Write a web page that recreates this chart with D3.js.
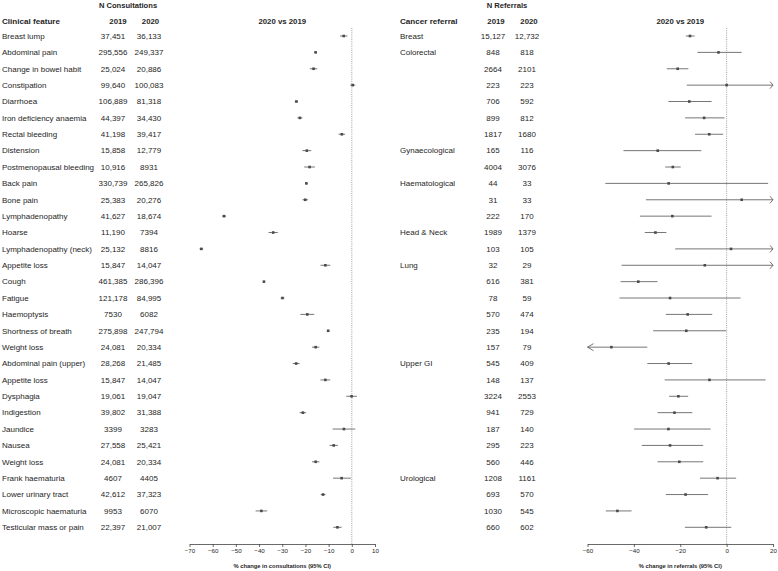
<!DOCTYPE html>
<html><head><meta charset="utf-8">
<script src="https://cdn.jsdelivr.net/npm/d3@7"></script>
<style>
html,body{margin:0;padding:0;background:#fff;}
text{font-family:"Liberation Sans",Arial,Helvetica,sans-serif;fill:#262626;}
</style></head>
<body>
<svg id="chart" width="778" height="571"></svg>
<script>
// ---------- Left panel: clinical features ----------
const features = ["Breast lump","Abdominal pain","Change in bowel habit","Constipation","Diarrhoea","Iron deficiency anaemia","Rectal bleeding","Distension","Postmenopausal bleeding","Back pain","Bone pain","Lymphadenopathy","Hoarse","Lymphadenopathy (neck)","Appetite loss","Cough","Fatigue","Haemoptysis","Shortness of breath","Weight loss","Abdominal pain (upper)","Appetite loss","Dysphagia","Indigestion","Jaundice","Nausea","Weight loss","Frank haematuria","Lower urinary tract","Microscopic haematuria","Testicular mass or pain"];
const cons2019 = ["37,451","295,556","25,024","99,640","106,889","44,397","41,198","15,858","10,916","330,739","25,383","41,627","11,190","25,132","15,847","461,385","121,178","7530","275,898","24,081","28,268","15,847","19,061","39,802","3399","27,558","24,081","4607","42,612","9953","22,397"];
const cons2020 = ["36,133","249,337","20,886","100,083","81,318","34,430","39,417","12,779","8931","265,826","20,276","18,674","7394","8816","14,047","286,396","84,995","6082","247,794","20,334","21,485","14,047","19,047","31,388","3283","25,421","20,334","4405","37,323","6070","21,007"];
const consEst = [-3.5,-15.6,-16.5,0.4,-23.9,-22.4,-4.3,-19.4,-18.2,-19.6,-20.1,-55.1,-33.9,-64.9,-11.4,-37.9,-29.9,-19.2,-10.2,-15.6,-24.0,-11.4,-0.1,-21.1,-3.4,-7.8,-15.6,-4.4,-12.4,-39.0,-6.2];
const consLo  = [-5.1,-16.1,-18.1,-0.7,-24.6,-23.5,-5.7,-21.3,-20.5,-20.0,-21.3,-55.9,-35.9,-65.7,-13.5,-38.3,-30.7,-22.2,-10.7,-17.2,-25.5,-13.5,-2.4,-22.5,-8.3,-9.6,-17.2,-8.1,-13.4,-41.5,-8.0];
const consHi  = [-1.9,-15.1,-14.9,1.5,-23.2,-21.3,-2.9,-17.5,-15.9,-19.2,-18.9,-54.3,-31.9,-64.1,-9.3,-37.5,-29.1,-16.2,-9.7,-14.0,-22.5,-9.3,2.2,-19.7,1.5,-6.0,-14.0,-0.4,-11.4,-36.5,-4.4];
const consTicks = [-70,-60,-50,-40,-30,-20,-10,0,10];

// ---------- Right panel: cancer referrals ----------
const groups = ["Breast","Colorectal","","","","","","Gynaecological","","Haematological","","","Head & Neck","","Lung","","","","","","Upper GI","","","","","","","Urological","","",""];
const ref2019 = ["15,127","848","2664","223","706","899","1817","165","4004","44","31","222","1989","103","32","616","78","570","235","157","545","148","3224","941","187","295","560","1208","693","1030","660"];
const ref2020 = ["12,732","818","2101","223","592","812","1680","116","3076","33","33","170","1379","105","29","381","59","474","194","79","409","137","2553","729","140","223","446","1161","570","545","602"];
const refEst = [-15.8,-3.5,-21.1,0.0,-16.1,-9.7,-7.5,-29.7,-23.2,-25.0,6.5,-23.4,-30.7,1.9,-9.4,-38.1,-24.4,-16.8,-17.4,-49.7,-25.0,-7.4,-20.8,-22.5,-25.1,-24.4,-20.4,-3.9,-17.7,-47.1,-8.8];
const refLo  = [-17.6,-12.6,-25.8,-17.2,-25.1,-17.9,-13.6,-44.5,-26.5,-52.3,-34.8,-37.4,-35.3,-22.2,-45.3,-45.7,-46.2,-26.2,-31.7,-70.0,-34.2,-26.7,-24.8,-29.8,-39.9,-36.6,-29.8,-11.5,-26.2,-52.1,-18.0];
const refHi  = [-13.8,6.5,-16.5,30.0,-6.5,-0.9,-1.5,-10.9,-19.8,17.9,35.0,-6.5,-26.0,30.0,30.0,-29.8,6.0,-6.2,-0.2,-34.2,-14.8,16.8,-16.6,-14.8,-6.9,-10.1,-10.1,4.1,-8.0,-41.0,2.0];
const refTicks = [-60,-40,-20,0,20];

const svg = d3.select("#chart");
const FS = 8.0;
const nRows = features.length;
const y = d3.scaleLinear().domain([0, nRows - 1]).range([36, 527.3]);
const axisY = 544;

function panel(opt) {
  const g = svg.append("g");
  const x = d3.scaleLinear().domain(opt.domain).range(opt.range);
  // headers
  g.append("text").attr("x", opt.nHeadX).attr("y", 8).attr("text-anchor", "middle")
    .attr("font-size", 7.6).attr("font-weight", "bold").text(opt.nHead);
  g.append("text").attr("x", opt.labelX).attr("y", 23.5)
    .attr("font-size", 8.1).attr("font-weight", "bold").text(opt.labelHead);
  g.append("text").attr("x", opt.c1).attr("y", 24).attr("text-anchor", "middle")
    .attr("font-size", 7.8).attr("font-weight", "bold").text("2019");
  g.append("text").attr("x", opt.c2).attr("y", 23.5).attr("text-anchor", "middle")
    .attr("font-size", 7.8).attr("font-weight", "bold").text("2020");
  g.append("text").attr("x", (opt.range[0] + opt.range[1]) / 2).attr("y", 23.5).attr("text-anchor", "middle")
    .attr("font-size", 7.8).attr("font-weight", "bold").text("2020 vs 2019");

  // row texts
  const idx = d3.range(opt.labels.length);
  g.selectAll("text.lab").data(idx).join("text").attr("class", "lab")
    .attr("x", opt.labelX).attr("y", i => y(i)).attr("dy", "0.35em")
    .attr("font-size", FS).text(i => opt.labels[i]);
  g.selectAll("text.c1").data(idx).join("text").attr("class", "c1")
    .attr("x", opt.n1X).attr("y", i => y(i)).attr("dy", "0.35em").attr("text-anchor", "middle")
    .attr("font-size", FS).text(i => opt.v1[i]);
  g.selectAll("text.c2").data(idx).join("text").attr("class", "c2")
    .attr("x", opt.n2X).attr("y", i => y(i)).attr("dy", "0.35em").attr("text-anchor", "middle")
    .attr("font-size", FS).text(i => opt.v2[i]);

  // zero reference line
  g.append("line").attr("x1", x(0)).attr("x2", x(0)).attr("y1", 28).attr("y2", axisY)
    .attr("stroke", "#888").attr("stroke-width", 0.8).attr("stroke-dasharray", "1,1.2");

  const [d0, d1] = opt.domain;
  const clamp = v => Math.max(d0, Math.min(d1, v));
  // CI lines
  g.selectAll("line.ci").data(idx).join("line").attr("class", "ci")
    .attr("x1", i => x(clamp(opt.lo[i]))).attr("x2", i => x(clamp(opt.hi[i])))
    .attr("y1", i => y(i)).attr("y2", i => y(i))
    .attr("stroke", "#666").attr("stroke-width", 0.9);
  // arrows for truncated intervals
  const arrowR = idx.filter(i => opt.hi[i] > d1);
  const arrowL = idx.filter(i => opt.lo[i] < d0);
  g.selectAll("path.ar").data(arrowR).join("path").attr("class", "ar")
    .attr("d", i => `M${x(d1) - 3},${y(i) - 3.5}L${x(d1)},${y(i)}L${x(d1) - 3},${y(i) + 3.5}`)
    .attr("fill", "none").attr("stroke", "#666").attr("stroke-width", 0.9);
  g.selectAll("path.al").data(arrowL).join("path").attr("class", "al")
    .attr("d", i => `M${x(d0) + 6},${y(i) - 3.5}L${x(d0)},${y(i)}L${x(d0) + 6},${y(i) + 3.5}`)
    .attr("fill", "none").attr("stroke", "#666").attr("stroke-width", 0.9);
  // point estimates
  const s = 2.6;
  g.selectAll("rect.pt").data(idx).join("rect").attr("class", "pt")
    .attr("x", i => x(opt.est[i]) - s / 2).attr("y", i => y(i) - s / 2)
    .attr("width", s).attr("height", s).attr("fill", "#4a4a4a");

  // axis
  const ax = g.append("g").attr("transform", `translate(0,${axisY})`)
    .call(d3.axisBottom(x).tickValues(opt.ticks).tickSize(3).tickSizeOuter(0).tickPadding(2));
  ax.select(".domain").attr("stroke", "#444").attr("stroke-width", 0.8);
  ax.selectAll(".tick line").attr("stroke", "#444").attr("stroke-width", 0.8);
  ax.selectAll(".tick text").attr("font-size", 6.2).attr("fill", "#333")
    .attr("font-family", "Liberation Sans, Arial, sans-serif");
  g.append("text").attr("x", (opt.range[0] + opt.range[1]) / 2).attr("y", 567.5).attr("text-anchor", "middle")
    .attr("font-size", 5.8).attr("font-weight", "bold").text(opt.axisTitle);
}

panel({
  labels: features, v1: cons2019, v2: cons2020, est: consEst, lo: consLo, hi: consHi,
  domain: [-70, 10], range: [189.5, 375], ticks: consTicks,
  nHead: "N Consultations", nHeadX: 128, labelHead: "Clinical feature", labelX: 2,
  c1: 118, c2: 150.5, n1X: 113, n2X: 149,
  axisTitle: "% change in consultations (95% CI)"
});
panel({
  labels: groups, v1: ref2019, v2: ref2020, est: refEst, lo: refLo, hi: refHi,
  domain: [-60, 20], range: [587.5, 773], ticks: refTicks,
  nHead: "N Referrals", nHeadX: 507, labelHead: "Cancer referral", labelX: 400,
  c1: 496, c2: 529, n1X: 493, n2X: 527,
  axisTitle: "% change in referrals (95% CI)"
});
</script>
</body></html>
